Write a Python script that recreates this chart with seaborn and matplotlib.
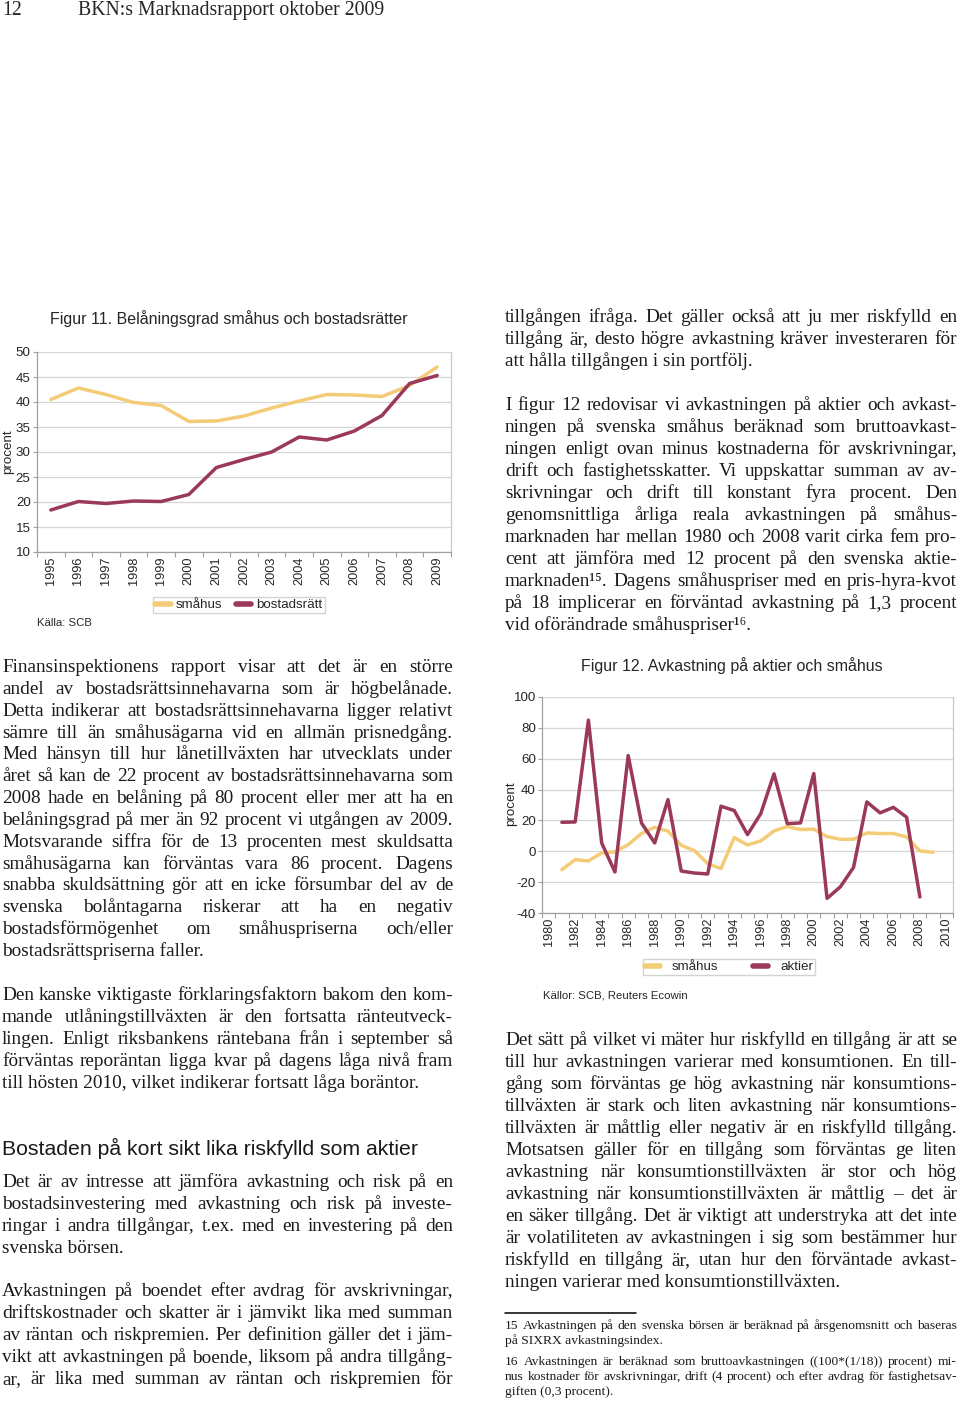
import numpy as np
import pandas as pd
import matplotlib
matplotlib.use("Agg")
import matplotlib.pyplot as plt
import seaborn as sns
from matplotlib.lines import Line2D

sns.set_style("white", rc={"axes.edgecolor": "#a0a0a0", "grid.color": "#d6d6d6"})
plt.rcParams['font.family'] = ['Liberation Sans', 'DejaVu Sans']

W, H = 960, 1401
YELLOW = "#f4cc78"
RED = "#9b3a58"
SERIF = ['Liberation Serif', 'DejaVu Serif']

# --- Figur 11: belåningsgrad (procent) ---
years_11 = list(range(1995, 2010))
smahus_11 = [40.5, 42.8, 41.5, 39.9, 39.3, 36.1, 36.2, 37.2, 38.8, 40.2, 41.5, 41.4, 41.1, 43.3, 47.0]
brf_11 = [18.4, 20.1, 19.7, 20.2, 20.1, 21.5, 26.9, 28.5, 30.0, 33.0, 32.4, 34.2, 37.3, 43.7, 45.3]

# --- Figur 12: avkastning (procent) ---
years_12 = list(range(1981, 2010))
smahus_12 = [-11.9, -5.4, -6.3, -1.1, -0.4, 4.3, 11.5, 15.6, 13.0, 3.9, 0.4, -8.0, -11.2, 8.9,
             4.1, 6.7, 13.2, 16.0, 14.1, 14.3, 9.5, 7.8, 7.8, 11.9, 11.5, 11.5, 9.3, 0.2, -0.6]
aktier_12 = [18.8, 19.0, 85.0, 5.4, -13.4, 62.1, 18.4, 5.4, 33.5, -12.8, -14.1, -14.7, 29.2, 26.4,
             10.8, 24.4, 50.2, 17.9, 18.4, 50.4, -30.5, -23.1, -10.4, 32.0, 24.9, 28.5, 22.1, -29.6, np.nan]

fig = plt.figure(figsize=(W / 100, H / 100), dpi=100)
renderer = fig.canvas.get_renderer()


def fx(x):
    return x / W


def fy(y):
    return 1 - y / H


def rect(l, t, r, b):
    return [l / W, 1 - b / H, (r - l) / W, (b - t) / H]


def style_axes(ax, xmin, xmax, xticks, yticks):
    ax.set_xlim(xmin, xmax)
    ax.set_ylim(yticks[0], yticks[-1])
    ax.set_xticks(xticks)
    ax.set_xticklabels([str(v) for v in xticks], rotation=90, fontsize=9.2)
    ax.set_xticks(np.arange(xmin, xmax + 0.01, 1.0), minor=True)
    ax.set_yticks(yticks)
    ax.set_yticklabels([str(v) for v in yticks], fontsize=9.6)
    ax.tick_params(axis='x', which='major', bottom=True, length=0, pad=3.5)
    ax.tick_params(axis='x', which='minor', bottom=True, length=3.5, color='#a0a0a0', width=0.8)
    ax.tick_params(axis='y', left=True, length=3, pad=1.5, color='#a0a0a0', width=0.8)
    ax.yaxis.grid(True, color='#d6d6d6', lw=0.9)
    ax.spines['top'].set_visible(False)
    ax.spines['right'].set_color('#c8c8c8')
    for s in ('left', 'bottom', 'right'):
        ax.spines[s].set_linewidth(0.9)
    ax.set_xlabel('')
    ax.set_ylabel('')


# Figur 11
ax1 = fig.add_axes(rect(37, 352, 451, 552))
df11 = pd.DataFrame({
    "år": years_11 * 2,
    "procent": smahus_11 + brf_11,
    "serie": ["småhus"] * len(years_11) + ["bostadsrätt"] * len(years_11),
})
sns.lineplot(data=df11, x="år", y="procent", hue="serie",
             palette={"småhus": YELLOW, "bostadsrätt": RED},
             linewidth=2.5, ax=ax1, legend=False)
style_axes(ax1, 1994.5, 2009.5, years_11, list(range(10, 51, 5)))
fig.text(fx(229), fy(319), "Figur 11. Belåningsgrad småhus och bostadsrätter",
         ha='center', va='center', fontsize=11.5)
fig.text(fx(8), fy(452), "procent", rotation=90, ha='center', va='center', fontsize=9.6)
fig.text(fx(37), fy(623), "Källa: SCB", ha='left', va='center', fontsize=8.2)
h1 = [Line2D([], [], color=YELLOW, lw=4), Line2D([], [], color=RED, lw=4)]
fig.legend(h1, ["småhus", "bostadsrätt"], loc='center', bbox_to_anchor=(fx(239), fy(605)),
           ncol=2, fontsize=9.6, frameon=True, fancybox=False, edgecolor='#c8c8c8',
           handlelength=1.15, handletextpad=0.4, columnspacing=1.0, borderpad=0.15,
           borderaxespad=0)

# Figur 12
ax2 = fig.add_axes(rect(542, 697, 953, 913))
df12 = pd.DataFrame({
    "år": years_12 * 2,
    "procent": smahus_12 + aktier_12,
    "serie": ["småhus"] * len(years_12) + ["aktier"] * len(years_12),
}).dropna()
sns.lineplot(data=df12, x="år", y="procent", hue="serie",
             palette={"småhus": YELLOW, "aktier": RED},
             linewidth=2.5, ax=ax2, legend=False)
style_axes(ax2, 1979.5, 2010.5, list(range(1980, 2011, 2)), list(range(-40, 101, 20)))
fig.text(fx(732), fy(666), "Figur 12. Avkastning på aktier och småhus",
         ha='center', va='center', fontsize=11.5)
fig.text(fx(511), fy(804), "procent", rotation=90, ha='center', va='center', fontsize=9.6)
fig.text(fx(543), fy(996), "Källor: SCB, Reuters Ecowin", ha='left', va='center', fontsize=8.2)
h2 = [Line2D([], [], color=YELLOW, lw=4), Line2D([], [], color=RED, lw=4)]
fig.legend(h2, ["småhus", "aktier"], loc='center', bbox_to_anchor=(fx(729), fy(967)),
           ncol=2, fontsize=9.6, frameon=True, fancybox=False, edgecolor='#c8c8c8',
           handlelength=1.15, handletextpad=0.9, columnspacing=2.6, borderpad=0.15,
           borderaxespad=0)


# --- running text ---
def word_width(word, **kw):
    t = fig.text(0, 0, word, **kw)
    w = t.get_window_extent(renderer).width
    t.remove()
    return w


def paragraph(lines, x0, x1, base, step, justify_last=False, **kw):
    for i, line in enumerate(lines):
        y = base + i * step
        words = line.split()
        last = i == len(lines) - 1
        if (last and not justify_last) or len(words) == 1:
            fig.text(fx(x0), fy(y), line, ha='left', va='baseline', **kw)
            continue
        widths = [word_width(w, **kw) for w in words]
        gap = (x1 - x0 - sum(widths)) / (len(words) - 1)
        x = x0
        for w, ww in zip(words, widths):
            fig.text(fx(x), fy(y), w, ha='left', va='baseline', **kw)
            x += ww + gap


body = dict(family=SERIF, fontsize=13.9, color='#1a1a1a')
foot = dict(family=SERIF, fontsize=9.7, color='#1a1a1a')

fig.text(fx(2), fy(15), "12", ha='left', va='baseline', family=SERIF, fontsize=14.2)
fig.text(fx(78), fy(15), "BKN:s Marknadsrapport oktober 2009", ha='left', va='baseline',
         family=SERIF, fontsize=14.2)

paragraph([
    "tillgången ifråga. Det gäller också att ju mer riskfylld en",
    "tillgång är, desto högre avkastning kräver investeraren för",
    "att hålla tillgången i sin portfölj.",
], 505, 957, 322, 22, **body)

paragraph([
    "I figur 12 redovisar vi avkastningen på aktier och avkast-",
    "ningen på svenska småhus beräknad som bruttoavkast-",
    "ningen enligt ovan minus kostnaderna för avskrivningar,",
    "drift och fastighetsskatter. Vi uppskattar summan av av-",
    "skrivningar och drift till konstant fyra procent. Den",
    "genomsnittliga årliga reala avkastningen på småhus-",
    "marknaden har mellan 1980 och 2008 varit cirka fem pro-",
    "cent att jämföra med 12 procent på den svenska aktie-",
    "marknaden¹⁵. Dagens småhuspriser med en pris-hyra-kvot",
    "på 18 implicerar en förväntad avkastning på 1,3 procent",
    "vid oförändrade småhuspriser¹⁶.",
], 505, 957, 410, 22, **body)

paragraph([
    "Finansinspektionens rapport visar att det är en större",
    "andel av bostadsrättsinnehavarna som är högbelånade.",
    "Detta indikerar att bostadsrättsinnehavarna ligger relativt",
    "sämre till än småhusägarna vid en allmän prisnedgång.",
    "Med hänsyn till hur lånetillväxten har utvecklats under",
    "året så kan de 22 procent av bostadsrättsinnehavarna som",
    "2008 hade en belåning på 80 procent eller mer att ha en",
    "belåningsgrad på mer än 92 procent vi utgången av 2009.",
    "Motsvarande siffra för de 13 procenten mest skuldsatta",
    "småhusägarna kan förväntas vara 86 procent. Dagens",
    "snabba skuldsättning gör att en icke försumbar del av de",
    "svenska bolåntagarna riskerar att ha en negativ",
    "bostadsförmögenhet om småhuspriserna och/eller",
    "bostadsrättspriserna faller.",
], 2, 453, 672, 21.85, **body)

paragraph([
    "Den kanske viktigaste förklaringsfaktorn bakom den kom-",
    "mande utlåningstillväxten är den fortsatta ränteutveck-",
    "lingen. Enligt riksbankens räntebana från i september så",
    "förväntas reporäntan ligga kvar på dagens låga nivå fram",
    "till hösten 2010, vilket indikerar fortsatt låga boräntor.",
], 2, 453, 1000, 22, **body)

fig.text(fx(2), fy(1155), "Bostaden på kort sikt lika riskfylld som aktier",
         ha='left', va='baseline', fontsize=15.3, color='#1a1a1a')

paragraph([
    "Det är av intresse att jämföra avkastning och risk på en",
    "bostadsinvestering med avkastning och risk på investe-",
    "ringar i andra tillgångar, t.ex. med en investering på den",
    "svenska börsen.",
], 2, 453, 1187, 22, **body)

paragraph([
    "Avkastningen på boendet efter avdrag för avskrivningar,",
    "driftskostnader och skatter är i jämvikt lika med summan",
    "av räntan och riskpremien. Per definition gäller det i jäm-",
    "vikt att avkastningen på boende, liksom på andra tillgång-",
    "ar, är lika med summan av räntan och riskpremien för",
], 2, 453, 1296, 22, justify_last=True, **body)

paragraph([
    "Det sätt på vilket vi mäter hur riskfylld en tillgång är att se",
    "till hur avkastningen varierar med konsumtionen. En till-",
    "gång som förväntas ge hög avkastning när konsumtions-",
    "tillväxten är stark och liten avkastning när konsumtions-",
    "tillväxten är måttlig eller negativ är en riskfylld tillgång.",
    "Motsatsen gäller för en tillgång som förväntas ge liten",
    "avkastning när konsumtionstillväxten är stor och hög",
    "avkastning när konsumtionstillväxten är måttlig – det är",
    "en säker tillgång. Det är viktigt att understryka att det inte",
    "är volatiliteten av avkastningen i sig som bestämmer hur",
    "riskfylld en tillgång är, utan hur den förväntade avkast-",
    "ningen varierar med konsumtionstillväxten.",
], 505, 957, 1045, 22, **body)

fig.add_artist(Line2D([fx(505), fx(636)], [fy(1313), fy(1313)], color='black', lw=1.1))

paragraph([
    "15  Avkastningen på den svenska börsen är beräknad på årsgenomsnitt och baseras",
    "på SIXRX avkastningsindex.",
], 505, 957, 1329, 15, **foot)

paragraph([
    "16  Avkastningen är beräknad som bruttoavkastningen ((100*(1/18)) procent) mi-",
    "nus kostnader för avskrivningar, drift (4 procent) och efter avdrag för fastighetsav-",
    "giften (0,3 procent).",
], 505, 957, 1365, 15, **foot)

fig.savefig("out.png", dpi=100)
